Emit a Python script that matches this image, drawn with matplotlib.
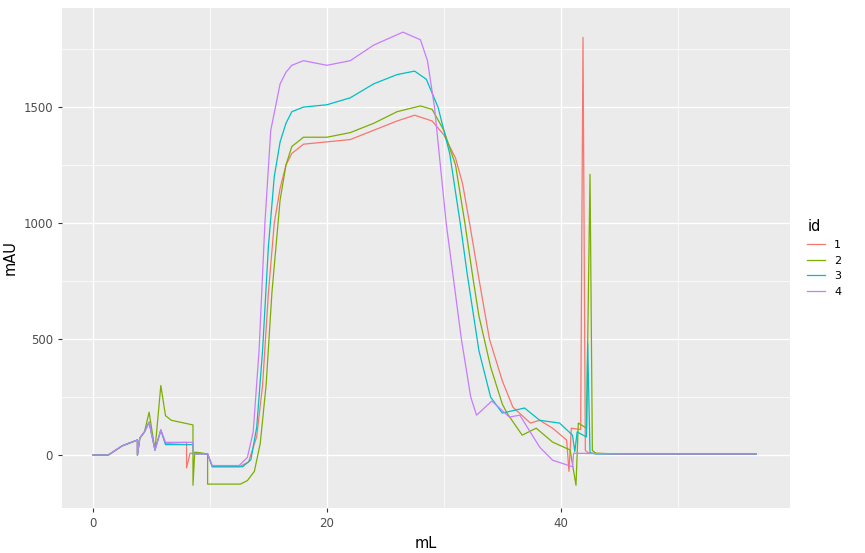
import numpy as np
import matplotlib.pyplot as plt

# shared start segment (x in mL, y in mAU)
start_x = [0, 1.3, 2.5, 3.8, 3.8, 4.0, 4.4, 4.8, 5.3, 5.8]
start_y = [0, 0, 40, 65, 0, 73, 100, 142, 22, 108]

x1 = start_x + [6.2, 8.0, 8.0, 8.3, 9.8, 10.2, 12.5, 13.3, 14.0, 14.5, 15, 15.5, 16, 16.5, 17, 18, 20, 22, 24, 26, 27.5, 29, 30, 31, 31.6, 32.2, 33, 33.9, 35, 35.9, 37.4, 38.2, 39.3, 40.5, 40.7, 40.9, 41.7, 41.9, 42.1, 42.4, 45, 56.7]
y1 = start_y + [50, 55, -55, 8, 5, -50, -50, -30, 80, 300, 700, 1000, 1150, 1250, 1300, 1340, 1350, 1360, 1400, 1440, 1465, 1440, 1380, 1280, 1170, 1000, 760, 500, 320, 207, 138, 150, 116, 65, -70, 116, 110, 1800, 20, 8, 5, 5]

x2 = start_x[:-2] + [5.3, 5.8, 6.2, 6.7, 8.55, 8.55, 8.7, 8.9, 9.8, 9.8, 12.6, 13.2, 13.8, 14.3, 14.8, 15.3, 16, 16.5, 17, 18, 20, 22, 24, 26, 28, 29, 30, 31, 31.8, 32.5, 33, 34, 35, 35.4, 36.7, 37.9, 39.3, 40.8, 41.3, 41.5, 42.2, 42.5, 42.7, 43, 45, 56.7]
y2 = start_y[:-3] + [185, 22, 300, 170, 150, 130, -130, 12, 12, 5, -125, -125, -110, -70, 50, 300, 700, 1100, 1250, 1330, 1370, 1370, 1390, 1430, 1480, 1505, 1490, 1400, 1250, 1000, 760, 600, 380, 220, 181, 86, 116, 56, 22, -130, 138, 116, 1210, 20, 8, 5, 5]

x3 = start_x + [6.2, 8.55, 8.6, 9.8, 10.2, 12.8, 13.5, 14.0, 14.5, 15, 15.5, 16, 16.5, 17, 18, 20, 22, 24, 26, 27.5, 28.5, 29.5, 30.5, 31.4, 32, 33, 34, 35, 36.9, 38.2, 39.9, 41.0, 41.2, 41.4, 42.2, 42.3, 42.5, 43, 56.7]
y3 = start_y + [45, 45, 5, 5, -50, -50, -20, 120, 450, 900, 1200, 1350, 1430, 1480, 1500, 1510, 1540, 1600, 1640, 1655, 1620, 1500, 1300, 1000, 780, 450, 250, 181, 203, 150, 138, 86, 15, 100, 78, 480, 10, 5, 5]

x4 = start_x + [6.2, 8.55, 8.6, 9.8, 10.2, 12.5, 13.2, 13.7, 14.2, 14.7, 15.2, 16, 16.5, 17, 18, 20, 22, 24, 26.5, 28, 28.6, 29.2, 30.2, 31.5, 32.3, 32.8, 34.1, 35.6, 36.5, 38.2, 39.3, 41.0, 41.1, 45, 56.7]
y4 = start_y + [55, 55, 5, 5, -45, -45, -10, 100, 450, 1000, 1400, 1600, 1650, 1680, 1700, 1680, 1700, 1767, 1823, 1790, 1700, 1500, 1000, 500, 250, 172, 233, 164, 172, 34, -22, -50, 8, 5, 5]

series = [("1", x1, y1, "#F8766D"), ("2", x2, y2, "#7CAE00"),
          ("3", x3, y3, "#00BFC4"), ("4", x4, y4, "#C77CFF")]

fig = plt.figure(figsize=(8.65, 5.53), dpi=100)
ax = fig.add_axes([62/865, 1-508/553, 728/865, 500/553])
ax.set_facecolor("#EBEBEB")
for x in [10, 30, 50]:
    ax.axvline(x, color="white", lw=0.5, zorder=0)
for y in [250, 750, 1250, 1750]:
    ax.axhline(y, color="white", lw=0.5, zorder=0)
ax.grid(True, color="white", lw=1.0, zorder=0)
ax.set_axisbelow(True)
for name, xs, ys, c in series:
    ax.plot(xs, ys, color=c, lw=0.9, label=name)
ax.set_xlim(-2.65, 59.6)
ax.set_ylim(-228, 1927)
ax.set_xticks([0, 20, 40])
ax.set_yticks([0, 500, 1000, 1500])
for s in ax.spines.values():
    s.set_visible(False)
ax.tick_params(colors="#4D4D4D", labelsize=8.5, length=3, color="#333333")
ax.set_xlabel("mL", fontsize=10.5)
ax.set_ylabel("mAU", fontsize=10.5)
leg = ax.legend(title="id", loc="center left", bbox_to_anchor=(1.01, 0.5), frameon=False,
                fontsize=8, title_fontsize=10.5, handlelength=1.6)
leg._legend_box.align = "left"
fig.savefig("out.png", dpi=100)
